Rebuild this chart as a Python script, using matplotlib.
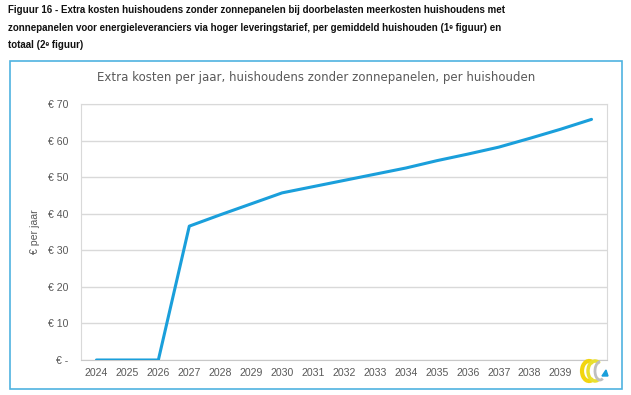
import matplotlib
matplotlib.use("Agg")
import matplotlib.pyplot as plt
from matplotlib.patches import Rectangle, Arc, Polygon

# data
years = [str(y) for y in range(2024, 2041)]
tick_labels = years[:-1] + [""]  # last label hidden behind the logo
kosten = [0, 0, 0, 36.6, 39.7, 42.7, 45.7, 47.4, 49.1, 50.8, 52.5,
          54.5, 56.3, 58.2, 60.6, 63.1, 65.8]
y_ticks = [0, 10, 20, 30, 40, 50, 60, 70]
y_labels = ["€ -"] + [f"€ {v}" for v in y_ticks[1:]]

caption = ("Figuur 16 - Extra kosten huishoudens zonder zonnepanelen bij doorbelasten meerkosten huishoudens met\n"
           "zonnepanelen voor energieleveranciers via hoger leveringstarief, per gemiddeld huishouden (1ᵉ figuur) en\n"
           "totaal (2ᵉ figuur)")
chart_title = "Extra kosten per jaar, huishoudens zonder zonnepanelen, per huishouden"

W, H = 631, 395
fig = plt.figure(figsize=(W / 100, H / 100), dpi=100)

def fx(px):
    return px / W

def fy(py):
    return 1 - py / H

# caption above the chart frame
fig.text(fx(8), fy(5), caption, ha="left", va="top", fontsize=7.0,
         fontweight="bold", color="#111111", linespacing=1.95,
         family=["Liberation Sans", "DejaVu Sans"])

# blue frame around the chart
fig.patches.append(Rectangle((fx(10), fy(389)), fx(612), 328 / H, transform=fig.transFigure,
                             fill=False, edgecolor="#4FB3E0", linewidth=1.2))

fig.text(fx(316), fy(78), chart_title, ha="center", va="center", fontsize=8.5,
         color="#595959", family="DejaVu Sans")

ax = fig.add_axes([fx(81), fy(360), (607 - 81) / W, (360 - 104) / H])
x = list(range(len(years)))
ax.plot(x, kosten, color="#1A9FDB", linewidth=2.2, solid_capstyle="round", zorder=3)

ax.set_xlim(-0.5, len(years) - 0.5)
ax.set_ylim(0, 70)
ax.set_xticks(x)
ax.set_xticklabels(tick_labels)
ax.set_yticks(y_ticks)
ax.set_yticklabels(y_labels)
ax.tick_params(axis="both", length=0, labelsize=7.6, labelcolor="#595959")
ax.tick_params(axis="y", pad=9)
ax.tick_params(axis="x", pad=6)
for lab in ax.get_xticklabels() + ax.get_yticklabels():
    lab.set_family("Liberation Sans")
ax.grid(axis="y", color="#D9D9D9", linewidth=1)
ax.set_axisbelow(True)
for side in ["top", "right", "left"]:
    ax.spines[side].set_color("#D9D9D9")
ax.spines["bottom"].set_color("#C8C8C8")
ax.set_ylabel("€ per jaar", fontsize=7.6, color="#595959", family="Liberation Sans", labelpad=6)

# small logo in the bottom right corner
lax = fig.add_axes([fx(578), fy(384), fx(32), 26 / H])
lax.set_xlim(0, 32)
lax.set_ylim(0, 26)
lax.axis("off")
lax.add_patch(Arc((11, 13), 14, 20, theta1=60, theta2=300, color="#F2D50F", linewidth=3))
lax.add_patch(Arc((17, 13), 14, 20, theta1=60, theta2=300, color="#E8E030", linewidth=2.5))
lax.add_patch(Arc((22, 13), 10, 18, theta1=90, theta2=290, color="#BFBFBF", linewidth=2))
lax.add_patch(Polygon([[24, 8], [30, 8], [28, 14]], color="#1A9FDB"))

fig.savefig("out.png", dpi=100)
